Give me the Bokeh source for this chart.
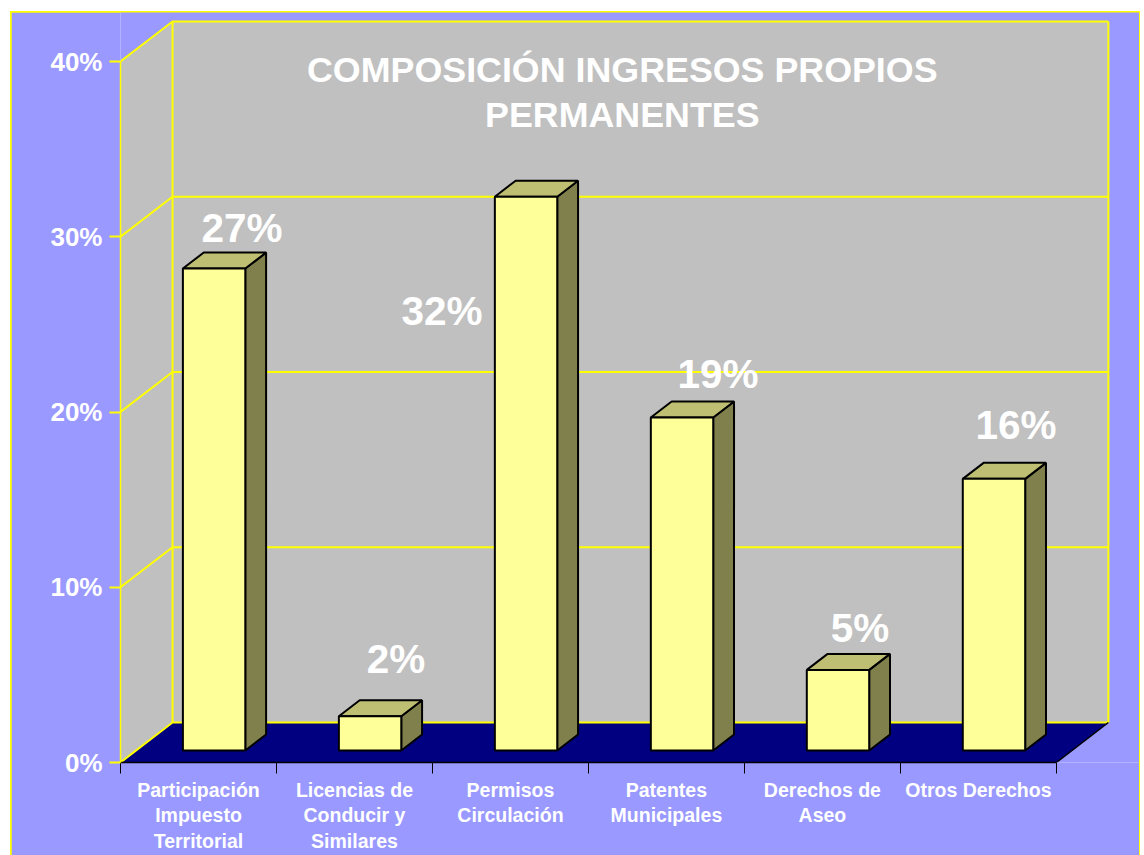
from bokeh.plotting import figure
from bokeh.models import ColumnDataSource, FixedTicker, LinearAxis, Range1d
from bokeh.core.properties import value
from bokeh.embed import file_html
from bokeh.resources import INLINE

# --- chart data ---
categories = ["Participación\nImpuesto\nTerritorial", "Licencias de\nConducir y\nSimilares",
              "Permisos\nCirculación", "Patentes\nMunicipales", "Derechos de\nAseo", "Otros Derechos"]
shares = [27.5, 1.95, 31.6, 19.0, 4.6, 15.5]
share_labels = ["27%", "2%", "32%", "19%", "5%", "16%"]
y_ticks = [0, 10, 20, 30, 40]
y_tick_labels = ["0%", "10%", "20%", "30%", "40%"]
title_text = "COMPOSICIÓN INGRESOS PROPIOS\nPERMANENTES"

# --- manual label placement (pixels relative to each bar's top, screen direction) ---
label_dx = [28, 26, -84, 36, 22, 22]
label_dy = [-41, -57, 114, -44, -42, -54]

# --- 3-D projection ---
FONT = "Liberation Sans"
YELLOW, WHITE = "#FFFF00", "#FFFFFF"
PX_PER_CAT, PX_PER_PCT = 155.9, 17.525
DEPTH_X, DEPTH_Y = 52 / PX_PER_CAT, 40 / PX_PER_PCT
BAR_W, BAR_D0, BAR_D1 = 0.40, 0.30, 0.70


def pt(x, y, d=0.0):
    return x + d * DEPTH_X, y + d * DEPTH_Y


def face(points):
    xs, ys = zip(*[pt(*q) for q in points])
    return list(xs), list(ys)


n = len(categories)
top = y_ticks[-1]

p = figure(width=1128, height=846, output_backend="svg", toolbar_location=None,
           x_range=Range1d(0, (1139 - 120.5) / PX_PER_CAT), y_range=Range1d(0, (762 - 12) / PX_PER_PCT),
           min_border_left=109, min_border_right=0, min_border_top=0, min_border_bottom=96,
           background_fill_color="#9999FF", border_fill_color="#9999FF",
           outline_line_color=None, x_axis_type=None, y_axis_type=None)
p.margin = (12, 0, 0, 11)
p.styles = {"outline": "2px solid #FFFF00", "outline-offset": "-1px"}
p.grid.visible = False

# walls and floor
wx, wy = face([(0, 0, 0), (0, top, 0), (0, top, 1), (0, 0, 1)])
p.patch(wx, wy, fill_color="#C0C0C0", line_color=None)
bx, by = face([(0, 0, 1), (0, top, 1), (n, top, 1), (n, 0, 1)])
p.patch(bx, by, fill_color="#C0C0C0", line_color=None)
fx, fy = face([(0, 0, 0), (0, 0, 1), (n, 0, 1), (n, 0, 0)])
p.patch(fx, fy, fill_color="#000080", line_color=None)

# grid lines
for t in y_ticks:
    lx, ly = face([(0, t, 0), (0, t, 1), (n, t, 1)])
    p.line(lx, ly, line_color=YELLOW, line_width=2)
for xv in (0, n):
    lx, ly = face([(xv, 0, 1), (xv, top, 1)])
    p.line(lx, ly, line_color=YELLOW, line_width=2)
lx, ly = face([(n, 0, 0), (n, 0, 1)])
p.line(lx, ly, line_color="#000000", line_width=1.5)

# bars
front_x, front_y, side_x, side_y, cap_x, cap_y = [], [], [], [], [], []
for i, v in enumerate(shares):
    x0, x1 = i + 0.5 - BAR_W / 2, i + 0.5 + BAR_W / 2
    a, b = face([(x0, 0, BAR_D0), (x0, v, BAR_D0), (x1, v, BAR_D0), (x1, 0, BAR_D0)])
    front_x.append(a); front_y.append(b)
    a, b = face([(x1, 0, BAR_D0), (x1, v, BAR_D0), (x1, v, BAR_D1), (x1, 0, BAR_D1)])
    side_x.append(a); side_y.append(b)
    a, b = face([(x0, v, BAR_D0), (x0, v, BAR_D1), (x1, v, BAR_D1), (x1, v, BAR_D0)])
    cap_x.append(a); cap_y.append(b)
p.patches(side_x, side_y, fill_color="#80804D", line_color="#000000", line_width=2)
p.patches(cap_x, cap_y, fill_color="#BFBF73", line_color="#000000", line_width=2)
p.patches(front_x, front_y, fill_color="#FFFF99", line_color="#000000", line_width=2)

# data labels
anchors = [pt(i + 0.5, v, BAR_D0) for i, v in enumerate(shares)]
src = ColumnDataSource(dict(x=[a[0] for a in anchors], y=[a[1] for a in anchors], t=share_labels,
                            dx=label_dx, dy=label_dy))
p.text("x", "y", text="t", source=src, x_offset="dx", y_offset="dy", text_color=WHITE,
       text_font=value(FONT), text_font_style="bold", text_font_size="40.5px",
       text_align="center", text_baseline="middle")

# title inside the plot
p.text([3.217], [38.25], text=[title_text], text_color=WHITE, text_font=value(FONT),
       text_font_style="bold", text_font_size="35.8px", text_align="center",
       text_baseline="middle", text_line_height=1.12)

# axes
yaxis = LinearAxis(ticker=FixedTicker(ticks=y_ticks), bounds=(0, top),
                   major_label_overrides={t: s for t, s in zip(y_ticks, y_tick_labels)},
                   axis_line_color=YELLOW, axis_line_width=1.5,
                   major_tick_line_color=YELLOW, major_tick_line_width=2,
                   major_tick_in=0, major_tick_out=11, minor_tick_line_color=None,
                   major_label_text_color=WHITE, major_label_text_font=FONT,
                   major_label_text_font_style="bold", major_label_text_font_size="26px",
                   major_label_standoff=7)
p.add_layout(yaxis, "left")

centres = [i + 0.5 for i in range(n)]
xaxis = LinearAxis(ticker=FixedTicker(ticks=centres, minor_ticks=list(range(n + 1))), bounds=(0, n),
                   major_label_overrides={c: s for c, s in zip(centres, categories)},
                   axis_line_color="#000000", axis_line_width=1.5,
                   major_tick_line_color=None, major_tick_in=0, major_tick_out=11,
                   minor_tick_line_color="#000000", minor_tick_line_width=1,
                   minor_tick_in=0, minor_tick_out=11,
                   major_label_text_color=WHITE, major_label_text_font=FONT,
                   major_label_text_font_style="bold", major_label_text_font_size="19.5px",
                   major_label_text_line_height=1.18, major_label_standoff=5)
p.add_layout(xaxis, "below")

open("out.html", "w").write(file_html(p, INLINE))
